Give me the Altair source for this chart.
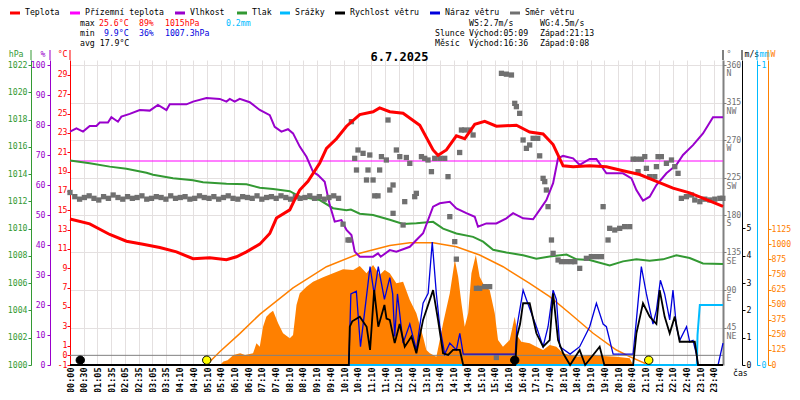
import json
import altair as alt
import pandas as pd

FONT = "DejaVu Sans Mono"
FS = 8.2

# ---------------- data ----------------
x_labels = ["00:00", "00:30", "01:05", "01:35", "02:05", "02:35", "03:05", "03:35",
            "04:10", "04:40", "05:10", "05:40", "06:10", "06:40", "07:10", "07:40",
            "08:10", "08:40", "09:10", "09:40", "10:10", "10:40", "11:10", "11:40",
            "12:10", "12:40", "13:10", "13:40", "14:10", "14:40", "15:10", "15:40",
            "16:10", "16:40", "17:10", "17:40", "18:10", "18:40", "19:10", "19:40",
            "20:10", "20:40", "21:10", "21:40", "22:10", "22:40", "23:10", "23:40"]

series_names = ["Teplota", "Přízemní teplota", "Vlhkost", "Tlak", "Srážky",
                "Rychlost větru", "Náraz větru", "Směr větru"]
series_colors = ["#ff0000", "#ff00ff", "#9900cc", "#339933", "#00bbff",
                 "#000000", "#0000dd", "#707070"]

# time in slots (one slot = one x label interval)
temp_t = [0, 1.44, 2.9, 4.12, 5.33, 6.55, 7.77, 8.98, 10.2, 11.42, 12.15, 12.88, 13.85,
          14.58, 15.07, 16.04, 16.4, 16.77, 17.37, 18.23, 18.72, 19.45, 20.18, 21.15, 22.12,
          22.6, 23.34, 24.31, 25.53, 26.5, 26.86, 27.47, 28.2, 28.81, 29.54, 30.27, 31.12,
          32.58, 33.55, 34.53, 35.26, 35.99, 36.72, 37.93, 39.15, 40.36, 41.58, 42.8, 44.01,
          45.23, 46.45, 47.66]
temp_v = [14.1, 13.6, 12.5, 11.8, 11.5, 11.15, 10.7, 10.0, 10.1, 9.9, 10.2, 10.7, 11.5,
          12.6, 14.2, 15.05, 16.1, 17.1, 18.0, 19.9, 21.4, 22.4, 23.7, 24.9, 25.2,
          25.6, 25.2, 25.05, 23.8, 21.25, 20.7, 21.25, 22.7, 22.4, 23.9, 24.2, 23.7,
          23.8, 23.1, 22.9, 21.8, 19.6, 19.5, 19.6, 19.5, 19.1, 18.7, 18.0, 17.3,
          16.8, 16.1, 15.4]

ground_t = [0, 47.66]
ground_v = [20.1, 20.1]

hum_t = [0, 0.47, 0.95, 1.44, 1.93, 2.17, 2.77, 3.02, 3.5, 3.75,
         4.36, 5.09, 5.82, 6.42, 7.04, 7.28, 8.5, 8.98, 9.96, 10.93,
         11.42, 11.66, 12.02, 12.39, 13.12, 13.85, 14.58, 14.94, 15.43, 15.91,
         16.28, 16.77, 17.26, 17.74, 18.1, 18.59, 18.96, 19.32, 19.81, 20.18,
         20.54, 20.78, 21.15, 22.12, 22.48, 22.68, 23.34, 23.82, 24.8, 25.77,
         26.5, 26.99, 27.72, 28.2, 28.93, 29.54, 29.78, 30.39, 31.12, 31.85,
         32.34, 33.07, 33.8, 34.28, 34.77, 35.26, 35.62, 35.99, 36.72, 37.2,
         37.93, 38.42, 39.15, 40.36, 40.98, 41.34, 41.82, 42.31, 42.8, 43.53,
         44.26, 44.74, 45.47, 46.2, 46.93, 47.66]
hum_v = [77.8, 78.9, 77.8, 79.7, 79.7, 80.8, 80.8, 82.6, 81.1, 82.8,
         83.7, 85, 84.8, 86.7, 85, 86.9, 86.9, 87.8, 89.0, 88.7,
         87.8, 88.7, 87.8, 88.7, 87.6, 85, 83.3, 79.4, 77.8, 78.6,
         77.2, 72.8, 69.4, 64.4, 63.3, 61.1, 53.3, 47.8, 48.3, 45,
         43.3, 37.8, 36.1, 36.1, 37.2, 36.1, 38.3, 37.8, 39.4, 43.9,
         52.8, 53.9, 54.4, 52.2, 50.6, 49.4, 46.1, 47.2, 47.2, 48.9,
         50.6, 48.9, 48.6, 51.7, 55, 60.6, 68.9, 69.7, 68.9, 66.7,
         68.7, 68.7, 63.9, 63.9, 62.2, 58.3, 54.8, 56.1, 60, 63.9,
         66.7, 70, 73.3, 77.2, 82.6, 82.6]

pres_t = [0, 1.44, 2.9, 4.12, 5.58, 6.06, 7.52, 8.98, 9.71, 11.42,
          12.88, 13.85, 14.82, 16.04, 16.77, 18.23, 19.2, 20.18, 20.5, 21.15,
          22.12, 23.34, 24.31, 25.28, 26.5, 27.23, 28.2, 29.42, 30.15, 30.88,
          31.85, 33.07, 34.04, 35.01, 36.24, 36.97, 37.93, 39.39, 40.36, 41.34,
          42.31, 43.28, 44.26, 45.23, 46.2, 47.66]
pres_v = [1015.0, 1014.8, 1014.55, 1014.4, 1014.1, 1013.95, 1013.7, 1013.55, 1013.4, 1013.3,
          1013.25, 1013.0, 1012.9, 1012.75, 1012.35, 1012.1, 1011.5, 1011.35, 1011.4, 1011.1,
          1011.0, 1010.65, 1010.35, 1010.4, 1010.5, 1010.0, 1009.65, 1009.4, 1009.05, 1008.45,
          1008.25, 1008.05, 1007.8, 1007.95, 1008.1, 1007.75, 1007.7, 1007.3, 1007.6, 1007.75,
          1007.65, 1007.75, 1008.05, 1007.85, 1007.45, 1007.4]

sol_t = [10.95, 11.2, 11.5, 11.93, 12.42, 12.78, 13.36, 13.61, 13.85, 14.09,
         14.33, 14.58, 14.82, 15.19, 15.55, 16.04, 16.28, 16.53, 16.77, 17.26,
         17.74, 18.47, 19.2, 19.93, 20.67, 21.15, 21.64, 22.12, 22.6, 22.97,
         23.34, 23.82, 24.31, 24.8, 25.28, 25.77, 26.01, 26.26, 26.74, 26.99,
         27.23, 27.72, 28.09, 28.33, 28.57, 28.81, 29.06, 29.3, 29.62, 29.9,
         30.27, 30.63, 31.0, 31.24, 31.6, 32.09, 32.46, 32.7, 32.94, 33.55,
         34.04, 34.53, 35.01, 35.5, 35.99, 36.97, 37.93, 38.91, 39.88, 40.85,
         41.1]
sol_v = [0, 30, 40, 83, 97, 83, 97, 180, 152, 317,
         400, 429, 450, 346, 263, 221, 249, 497, 594, 649,
         691, 727, 760, 793, 788, 821, 760, 829, 746, 788,
         760, 677, 691, 539, 429, 235, 124, 97, 69, 207,
         346, 594, 871, 732, 512, 317, 429, 760, 912, 732,
         649, 622, 429, 207, 152, 207, 400, 235, 193, 180,
         152, 124, 166, 152, 97, 69, 83, 75, 69, 55,
         0]

clear_t = [9.96, 10.93, 12.39, 13.85, 16.28, 18.72, 21.15, 23.34, 24.8, 26.5,
           28.2, 29.9, 31.61, 33.55, 35.01, 36.47, 38.18, 39.88, 40.85, 42.24]
clear_v = [0, 110, 260, 420, 640, 815, 926, 990, 1014, 1014,
           981, 912, 815, 677, 567, 429, 263, 124, 69, 0]

ws_t = [0, 20.35, 20.42, 20.6, 21.15, 21.65, 21.9, 22.2, 22.5, 22.95,
        23.1, 23.34, 23.7, 24.06, 24.43, 24.92, 25.28, 25.77, 26.5, 26.86,
        27.23, 27.6, 27.96, 28.45, 28.7, 32.5, 32.62, 32.85, 33.07, 33.55,
        34.04, 34.53, 35.01, 35.26, 35.62, 35.99, 36.5, 37.2, 37.6, 38.66,
        39.0, 41.1, 41.34, 41.82, 42.31, 42.8, 43.04, 43.4, 43.77, 44.14,
        44.5, 45.6, 45.84, 47.66]
ws_v = [0, 0, 1.4, 1.6, 1.77, 1.4, 0.55, 2.74, 1.4, 2.2,
        1.7, 1.65, 0.8, 1.5, 0.67, 1.04, 0.43, 1.65, 2.74, 1.65,
        0.43, 0.37, 0.55, 0.55, 0, 0, 1.04, 1.5, 2.26, 2.26,
        1.16, 0.67, 0.91, 2.62, 0.91, 0.43, 0, 0.55, 0, 0.67,
        0, 0, 1.16, 2.26, 1.77, 1.5, 2.74, 1.77, 1.16, 1.77,
        0.85, 0.85, 0, 0]

wg_t = [0, 20.35, 20.5, 20.9, 21.2, 21.9, 22.2, 22.5, 22.95, 23.34,
        23.55, 23.7, 23.9, 24.31, 24.8, 25.28, 25.77, 26.14, 26.44, 26.74,
        26.99, 27.35, 27.72, 28.2, 28.45, 28.7, 32.5, 32.62, 33.07, 33.31,
        34.04, 34.53, 34.89, 35.26, 35.5, 35.75, 36.5, 37.2, 37.93, 38.42,
        38.91, 39.15, 39.64, 41.1, 41.34, 41.7, 42.07, 42.55, 42.8, 43.09,
        43.4, 43.77, 44.01, 44.26, 44.5, 45.0, 45.23, 45.47, 45.72, 45.84,
        47.3, 47.66]
wg_v = [0, 0, 2.6, 2.7, 0.67, 3.6, 2.6, 3.6, 2.4, 3.2,
        2.6, 1.04, 2.6, 0.8, 1.5, 0.55, 2.26, 2.62, 4.5, 2.6,
        1.4, 0.4, 0.8, 0.55, 1.16, 0.4, 0.4, 1.4, 2.74, 2.4,
        1.4, 0.67, 1.4, 2.74, 2.4, 0.67, 0.4, 0.67, 1.4, 2.26,
        1.5, 1.4, 0.4, 0.4, 1.65, 3.6, 2.6, 1.5, 2.0, 3.1,
        2.6, 1.65, 2.74, 1.4, 0.9, 1.4, 0.85, 0.9, 0.4, 0,
        0, 0.8]

rain_t = [0, 45.75, 45.8, 45.97, 47.66]
rain_v = [0, 0, 0.1, 0.2, 0.2]

dir_t = [0, 0.35, 0.7, 1.05, 1.4, 1.75, 2.1, 2.45, 2.8, 3.15,
         3.5, 3.85, 4.2, 4.55, 4.9, 5.25, 5.6, 5.95, 6.3, 6.65,
         7.0, 7.35, 7.7, 8.05, 8.4, 8.75, 9.1, 9.45, 9.8, 10.15,
         10.5, 10.85, 11.2, 11.55, 11.9, 12.25, 12.6, 12.95, 13.3, 13.65,
         14.0, 14.35, 14.7, 15.05, 15.4, 15.75, 16.1, 16.45, 16.8, 17.15,
         17.5, 17.85, 18.2, 18.55, 18.9, 19.25, 19.6,
         19.93, 20.29, 20.42, 20.54, 20.78, 20.91, 21.02, 21.39, 21.64, 21.75,
         21.88, 22.12, 22.24, 22.48, 22.6, 22.73, 23.09, 23.21, 23.34, 23.58,
         23.58, 23.82, 24.07, 24.31, 24.43, 24.55, 24.8, 25.16, 25.28, 25.65,
         25.89, 26.13, 26.38, 26.62, 26.99, 27.35, 27.59, 27.72, 28.08, 28.2,
         28.44, 28.57, 28.81, 29.18, 29.42, 29.66, 29.9, 30.27, 30.63, 31.12,
         31.49, 31.85, 32.22, 32.46, 32.58, 32.82, 33.07, 33.31, 33.55, 33.8,
         34.14, 34.28, 34.53, 34.65, 34.77, 34.89, 35.14, 35.26, 35.62, 35.87,
         36.24, 36.6, 36.84, 37.2, 37.69, 38.05, 38.42, 38.79, 38.91, 39.27,
         39.39, 39.76, 40.12, 40.48, 40.85, 41.1, 41.34, 41.46, 41.7, 41.95,
         42.07, 42.31, 42.68, 42.8, 42.92, 43.16, 43.53, 43.9, 44.14, 44.38,
         44.62, 44.99, 45.36, 45.6, 45.97, 46.33, 46.7, 47.06, 47.43, 47.65]
dir_v = [207, 202, 199, 201, 203, 200, 198, 202, 200, 204,
         201, 199, 202, 200, 201, 203, 199, 200, 202, 201,
         199, 203, 200, 201, 202, 199, 200, 203, 201, 200,
         202, 199, 201, 203, 200, 199, 202, 201, 200, 203,
         199, 201, 202, 200, 203, 201, 199, 202, 200, 201,
         203, 200, 202, 199, 201, 203, 200,
         169, 150, 150, 292, 248, 234, 258, 254, 222, 234,
         252, 222, 203, 203, 234, 250, 246, 294, 210, 216,
         182, 258, 250, 168, 196, 249, 242, 202, 206, 250,
         248, 246, 232, 248, 248, 248, 226, 178, 148, 127,
         255, 282, 282, 282, 276, 92, 92, 94, 94, 9,
         350, 349, 348, 314, 310, 302, 270, 260, 264, 272,
         272, 251, 224, 220, 210, 190, 150, 134, 126, 124,
         124, 124, 124, 116, 128, 130, 130, 130, 190, 150,
         164, 162, 164, 166, 166, 247, 247, 232, 247, 250,
         236, 226, 226, 238, 250, 250, 242, 246, 238, 230,
         200, 202, 204, 198, 196, 199, 198, 199, 200, 200]

marker_t = [0.75, 9.98, 32.46, 42.24]
marker_kind = ["moon", "sun", "moon", "sun"]
marker_level = [-0.5, -0.5, -0.5, -0.5]

info_text = ["max", "25.6°C", "89%", "1015hPa", "0.2mm", "WS:2.7m/s", "WG:4.5m/s",
             "min", "9.9°C", "36%", "1007.3hPa", "Slunce", "Východ:05:09", "Západ:21:13",
             "avg 17.9°C", "Měsíc", "Východ:16:36", "Západ:0:08"]

# ---------------- layout / style (not data) ----------------
info_color = ["#000000", "#ff0000", "#ff0000", "#ff0000", "#00bbff", "#000000", "#000000",
              "#000000", "#0000dd", "#0000dd", "#0000dd", "#000000", "#000000", "#000000",
              "#000000", "#000000", "#000000", "#000000"]
info_pos = [(10, -36), (29, -36), (69, -36), (95, -36), (156, -36), (399, -36), (470, -36),
            (10, -26), (34, -26), (69, -26), (95, -26), (365, -26), (399, -26), (470, -26),
            (10, -16), (365, -16), (399, -16), (470, -16)]
legend_sym_x = [-60, 0, 105, 167, 210, 265, 360, 440]
LEG_Y = -47

T_DOM = [-1, 30.55]
H_DOM = [0, 101.67]
P_DOM = [1000, 1022.37]
D_DOM = [0, 366]
WS_DOM = [0, 11.16]
R_DOM = [0, 1.0167]
W_DOM = [0, 2529]
GRID = "#e4e0e0"


def frame(t, v, name=None):
    df = pd.DataFrame({"t": t, "v": v})
    if name is not None:
        df["s"] = name
    return df


def sc(dom):
    return alt.Scale(domain=dom, nice=False, zero=False)


def yaxis(orient, offset, values, title, color, tx, **kw):
    opts = dict(orient=orient, offset=offset, values=values, title=title,
                titleX=tx, titleY=-6, titleAngle=0,
                titleAlign="right" if orient == "left" else "left",
                titleBaseline="middle", titleColor=color, titleFont=FONT,
                titleFontSize=FS, titleFontWeight="normal",
                labelColor=color, labelFont=FONT, labelFontSize=FS,
                domainColor=color, tickColor=color, tickSize=3, format="d",
                grid=False, labelOverlap=False, labelFlush=False)
    opts.update(kw)
    return alt.Axis(**opts)


one = pd.DataFrame({"k": [0]})

color_enc = alt.Color("s:N", scale=alt.Scale(domain=series_names, range=series_colors),
                      legend=None)

x_axis = alt.Axis(values=list(range(len(x_labels))),
                  labelExpr=json.dumps(x_labels) + "[datum.value]",
                  labelAngle=270, labelFont=FONT, labelFontSize=8.5, labelFontWeight="bold",
                  labelColor="black", labelPadding=2, labelOverlap=False, labelFlush=False,
                  ticks=False, domain=False, grid=True, gridColor=GRID, title=None)
x_enc = alt.X("t:Q", scale=alt.Scale(domain=[0, 47.66], nice=False, zero=False), axis=x_axis)

dir_expr = ("[datum.label, datum.value == 360 ? '\u00a0N' : datum.value == 315 ? 'NW' : "
            "datum.value == 270 ? '\u00a0W' : datum.value == 225 ? 'SW' : "
            "datum.value == 180 ? '\u00a0S' : datum.value == 135 ? 'SE' : "
            "datum.value == 90 ? '\u00a0E' : 'NE']")

layers = []

# solar radiation area + clear-sky curve
layers.append(alt.Chart(frame(sol_t, sol_v)).mark_area(color="#ff8000", opacity=1).encode(
    x=x_enc,
    y=alt.Y("v:Q", scale=sc(W_DOM),
            axis=yaxis("right", 45, list(range(0, 1126, 125)), "W", "#ff8000", 2,
                       labelPadding=0))))
layers.append(alt.Chart(frame(clear_t, clear_v)).mark_line(color="#ff8000", strokeWidth=1.5).encode(
    x=x_enc, y=alt.Y("v:Q", scale=sc(W_DOM), axis=None)))

# 0 °C line
layers.append(alt.Chart(pd.DataFrame({"v": [0]})).mark_rule(color="#808080", strokeWidth=1).encode(
    y=alt.Y("v:Q", scale=sc(T_DOM), axis=None)))

# ground temperature
layers.append(alt.Chart(frame(ground_t, ground_v, series_names[1])).mark_line(strokeWidth=1.2).encode(
    x=x_enc, y=alt.Y("v:Q", scale=sc(T_DOM), axis=None), color=color_enc))

# pressure
layers.append(alt.Chart(frame(pres_t, pres_v, series_names[3])).mark_line(strokeWidth=2).encode(
    x=x_enc,
    y=alt.Y("v:Q", scale=sc(P_DOM),
            axis=yaxis("left", 39, list(range(1000, 1023, 2)), "hPa", "#339933", -8,
                       labelPadding=1)),
    color=color_enc))

# humidity
layers.append(alt.Chart(frame(hum_t, hum_v, series_names[2])).mark_line(strokeWidth=2).encode(
    x=x_enc,
    y=alt.Y("v:Q", scale=sc(H_DOM),
            axis=yaxis("left", 20, list(range(0, 101, 10)), "%", "#9900cc", -5,
                       labelPadding=2)),
    color=color_enc))

# wind direction squares
layers.append(alt.Chart(frame(dir_t, dir_v)).mark_square(size=28, color="#707070", opacity=1).encode(
    x=x_enc,
    y=alt.Y("v:Q", scale=sc(D_DOM),
            axis=yaxis("right", 0, [45, 90, 135, 180, 225, 270, 315, 360], "°", "#707070", 3,
                       domainColor="#808080", domainWidth=2, tickColor="#808080",
                       labelPadding=0, labelAlign="left", labelBaseline="middle",
                       labelLineHeight=8.5, labelOffset=0, labelExpr=dir_expr,
                       grid=True, gridColor=GRID))))

# temperature
layers.append(alt.Chart(frame(temp_t, temp_v, series_names[0])).mark_line(strokeWidth=3).encode(
    x=x_enc,
    y=alt.Y("v:Q", scale=sc(T_DOM),
            axis=yaxis("left", 0, [-1, 0] + list(range(1, 30, 2)), "°C", "#ff0000", -3,
                       labelPadding=0,
                       labelExpr="replace(datum.label, '\u2212', '-')")),
    color=color_enc))

# precipitation
layers.append(alt.Chart(frame(rain_t, rain_v, series_names[4])).mark_line(strokeWidth=2).encode(
    x=x_enc,
    y=alt.Y("v:Q", scale=sc(R_DOM),
            axis=yaxis("right", 34, [0, 1], "mm", "#00bbff", 2, labelPadding=1)),
    color=color_enc))

# gusts
layers.append(alt.Chart(frame(wg_t, wg_v, series_names[6])).mark_line(strokeWidth=1.3).encode(
    x=x_enc, y=alt.Y("v:Q", scale=sc(WS_DOM), axis=None), color=color_enc))

# wind speed
layers.append(alt.Chart(frame(ws_t, ws_v, series_names[5])).mark_line(strokeWidth=1.8).encode(
    x=x_enc,
    y=alt.Y("v:Q", scale=sc(WS_DOM),
            axis=yaxis("right", 19, [0, 1, 2, 3, 4, 5], "m/s", "#000000", 2, labelPadding=1)),
    color=color_enc))

# sun / moon markers
layers.append(alt.Chart(pd.DataFrame({"t": marker_t, "k": marker_kind, "v": marker_level}))
              .mark_circle(size=70, stroke="black", strokeWidth=1, opacity=1).encode(
    x=x_enc, y=alt.Y("v:Q", scale=sc(T_DOM), axis=None),
    fill=alt.Fill("k:N", scale=alt.Scale(domain=["sun", "moon"], range=["#ffff00", "#000000"]),
                  legend=None)))

# axis line extensions above the plot
for xr, c, w in [(-39, "#339933", 1), (-20, "#9900cc", 1), (0, "#ff0000", 1),
                 (653, "#808080", 2), (672, "#000000", 1), (687, "#00bbff", 1),
                 (698, "#ff8000", 1)]:
    layers.append(alt.Chart(one).mark_rule(color=c, strokeWidth=w).encode(
        x=alt.value(xr), y=alt.value(-10), y2=alt.value(0)))

# legend (drawn by hand: swatch + name)
for name, c, sx in zip(series_names, series_colors, legend_sym_x):
    layers.append(alt.Chart(one).mark_rule(color=c, strokeWidth=3).encode(
        x=alt.value(sx), x2=alt.value(sx + 10), y=alt.value(LEG_Y)))
    layers.append(alt.Chart(one).mark_text(align="left", baseline="middle", font=FONT,
                                           fontSize=FS, color="black").encode(
        x=alt.value(sx + 15), y=alt.value(LEG_Y), text=alt.value(name)))

# info texts
for s, c, (px, py) in zip(info_text, info_color, info_pos):
    layers.append(alt.Chart(one).mark_text(align="left", baseline="middle", font=FONT,
                                           fontSize=FS, color=c).encode(
        x=alt.value(px), y=alt.value(py), text=alt.value(s)))

layers.append(alt.Chart(one).mark_text(align="center", baseline="alphabetic", font=FONT,
                                       fontSize=12, fontWeight="bold", color="black").encode(
    x=alt.value(329.5), y=alt.value(1), text=alt.value("6.7.2025")))
layers.append(alt.Chart(one).mark_text(align="left", baseline="middle", font=FONT,
                                       fontSize=FS, color="black").encode(
    x=alt.value(663), y=alt.value(314), text=alt.value("čas")))

chart = alt.layer(*layers).resolve_scale(y="independent").properties(
    width=653, height=305,
    autosize=alt.AutoSizeParams(type="none"),
    padding={"left": 62, "top": 52, "right": 69, "bottom": 27},
).configure_view(stroke=None)

chart.save("out.html", embed_options={"renderer": "svg", "actions": False})
